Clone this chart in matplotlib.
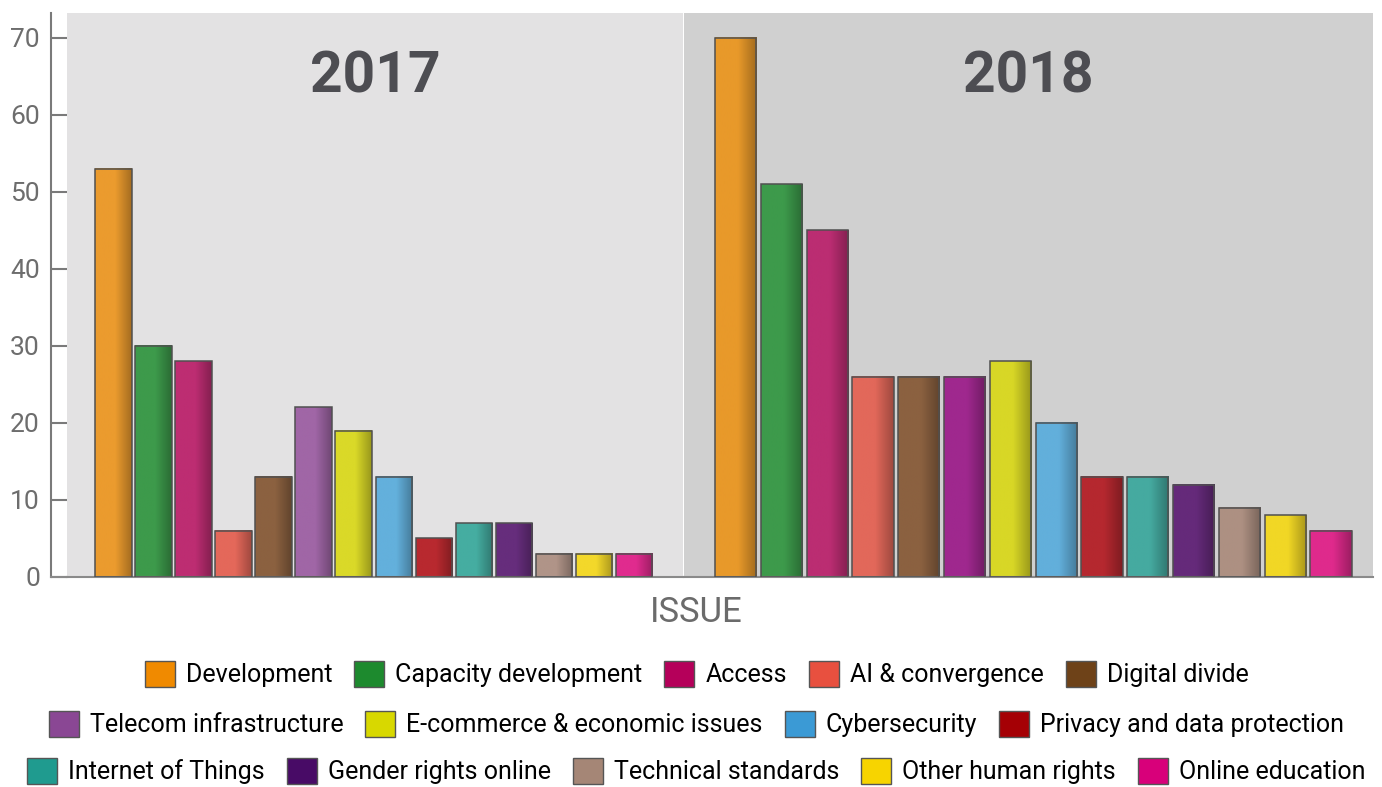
import numpy as np
import matplotlib.pyplot as plt
from matplotlib.patches import Patch
from matplotlib.lines import Line2D
from matplotlib.colors import to_rgb

# Data
issues = ['Development', 'Capacity development', 'Access', 'AI & convergence', 'Digital divide',
          'Telecom infrastructure', 'E-commerce & economic issues', 'Cybersecurity',
          'Privacy and data protection', 'Internet of Things', 'Gender rights online',
          'Technical standards', 'Other human rights', 'Online education']
values_2017 = [53, 30, 28, 6, 13, 22, 19, 13, 5, 7, 7, 3, 3, 3]
values_2018 = [70, 51, 45, 26, 26, 26, 28, 20, 13, 13, 12, 9, 8, 6]

bar_colors_2017 = ['#eb9b2e', '#3d9a4b', '#bd2d72', '#e4685a', '#8b6140', '#a066a6', '#dad928',
                   '#63b0dc', '#b8292f', '#45ada1', '#662d7c', '#b09488', '#f3d82a', '#e02b8e']
bar_colors_2018 = ['#e8992a', '#3d9a4b', '#bb2d72', '#e2685a', '#8b6140', '#9f288e', '#d8d726',
                   '#62afdb', '#b5282f', '#45aaa0', '#652a7a', '#ad9082', '#f1d725', '#df2a8c']
legend_colors = ['#f08a00', '#1d8a2e', '#b5005a', '#e8503f', '#6e4218', '#8a4794', '#d8d800',
                 '#3b9ad5', '#a50005', '#1f9b8f', '#480b66', '#a58676', '#f7d400', '#d8007a']

W, H = 1382, 787
fig = plt.figure(figsize=(W / 100, H / 100), dpi=100)

y_bot = (H - 577) / H
y_top = (H - 13) / H
ax1 = fig.add_axes([67 / W, y_bot, (683 - 67) / W, y_top - y_bot])
ax2 = fig.add_axes([684 / W, y_bot, (1373 - 684) / W, y_top - y_bot])

num_font = ['Roboto', 'DejaVu Sans']
x = np.arange(len(issues))


def draw_panel(ax, vals, colors, width, face, year, xlim):
    ax.set_facecolor(face)
    bars = ax.bar(x, vals, width=width, color=colors, linewidth=0, zorder=2)
    t = np.linspace(0, 1, 64)
    shade = np.where(t < 0.55, 1.0, 1.0 - (t - 0.55) / 0.45 * 0.3)
    for b, c in zip(bars, colors):
        rgb = np.array(to_rgb(c))
        grad = (shade[:, None] * rgb[None, :])[None, :, :]
        ax.imshow(grad, extent=(b.get_x(), b.get_x() + b.get_width(), 0, b.get_height()),
                  aspect='auto', interpolation='bilinear', zorder=2.5)
    ax.bar(x, vals, width=width, fill=False, edgecolor='#505050', linewidth=1.1, zorder=3)
    ax.set_xlim(*xlim)
    ax.set_ylim(0, 73.2)
    ax.set_xticks([])
    for s in ['top', 'right', 'left']:
        ax.spines[s].set_visible(False)
    ax.spines['bottom'].set_color('#8a8a8a')
    ax.spines['bottom'].set_linewidth(1.5)
    ax.text(0.5, 0.887, year, transform=ax.transAxes, ha='center', va='center',
            fontsize=41, fontweight='bold', color='#4d4d52', family=num_font)


draw_panel(ax1, values_2017, bar_colors_2017, 0.914, '#e3e2e3', '2017', (-1.163, 14.223))
draw_panel(ax2, values_2018, bar_colors_2018, 0.90, '#d0d0d0', '2018', (-1.128, 13.916))

# left axis
ax1.spines['left'].set_visible(True)
ax1.spines['left'].set_position(('outward', 11.5))
ax1.spines['left'].set_color('#7a7a7a')
ax1.spines['left'].set_linewidth(1.5)
ax1.set_yticks(range(0, 71, 10))
ax1.tick_params(axis='y', direction='in', length=11.5, width=1.5, color='#7a7a7a',
                pad=8, labelsize=19, labelcolor='#6d6d6d')
for lab in ax1.get_yticklabels():
    lab.set_family(num_font)
ax2.set_yticks([])

# bottom line continuing under the axis spine
fig.add_artist(Line2D([51 / W, 67 / W], [y_bot, y_bot], color='#8a8a8a', linewidth=1.5))

fig.text(0.504, (H - 613) / H, 'ISSUE', ha='center', va='center', fontsize=25,
         color='#6b6b6b', family=num_font)

rows = [(0, 5, 674), (5, 9, 724), (9, 14, 771)]
for a, b, yc in rows:
    handles = [Patch(facecolor=legend_colors[i], edgecolor='#555555', linewidth=1, label=issues[i])
               for i in range(a, b)]
    fig.legend(handles=handles, loc='center', bbox_to_anchor=(0.504, (H - yc) / H),
               ncol=len(handles), frameon=False, prop={'family': num_font, 'size': 18},
               handlelength=1.2, handleheight=1.2, handletextpad=0.44, columnspacing=0.88,
               borderpad=0, borderaxespad=0)

fig.savefig('out.png', dpi=100)
